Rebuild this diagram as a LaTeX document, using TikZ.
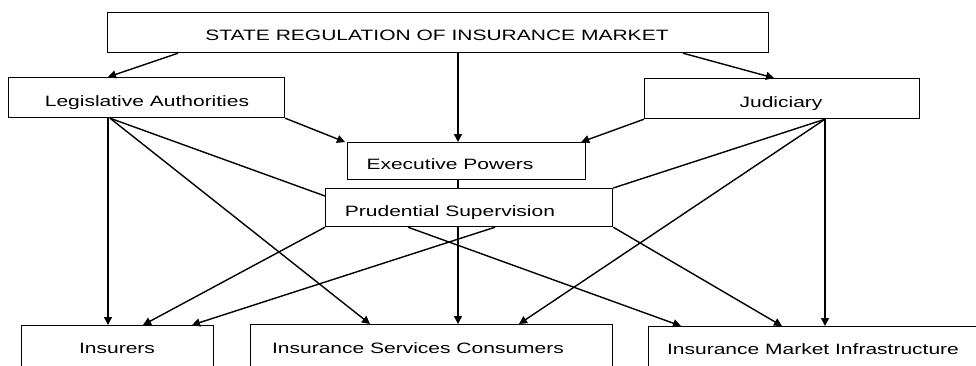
\documentclass[tikz,border=0pt]{standalone}
\usepackage{fontspec}
\setmainfont{Liberation Sans}[FakeStretch=1.4]
\usetikzlibrary{arrows.meta,calc}
\begin{document}
\begin{tikzpicture}[x=1pt,y=-1pt,
  box/.style={draw=black,line width=1.2pt,inner sep=0pt,anchor=north west},
  lbl/.style={anchor=base,inner sep=0pt,font=\fontsize{15}{18}\selectfont},
  arr/.style={line width=1.4pt,-{Triangle[length=8pt,width=8pt]}},
  ln/.style={line width=1.4pt}]
\clip (0,0) rectangle (976,365);
\fill[white] (0,0) rectangle (976,365);
% boxes
\node[box,minimum width=661pt,minimum height=40pt] (top) at (107,12) {};
\node[box,minimum width=276pt,minimum height=40pt] (leg) at (8,77) {};
\node[box,minimum width=275pt,minimum height=40pt] (jud) at (644,78) {};
\node[box,minimum width=238pt,minimum height=37pt] (exe) at (347,142) {};
\node[box,minimum width=287pt,minimum height=38pt] (pru) at (325,188) {};
\node[box,minimum width=192pt,minimum height=70pt] (ins) at (21,325) {};
\node[box,minimum width=362pt,minimum height=70pt] (con) at (250,324) {};
\node[box,minimum width=360pt,minimum height=70pt] (inf) at (648,326) {};
% texts
\node[lbl] (ttop) at (437,40) {STATE REGULATION OF INSURANCE MARKET};
\node[lbl] (tleg) at (147,106) {Legislative Authorities};
\node[lbl] (tjud) at (781,107) {Judiciary};
\node[lbl] (texe) at (450,169) {Executive Powers};
\node[lbl] (tpru) at (450,216) {Prudential Supervision};
\node[lbl] (tins) at (117,353) {Insurers};
\node[lbl] (tcon) at (418,353) {Insurance Services Consumers};
\node[lbl] (tinf) at (813,354) {Insurance Market Infrastructure};
% connectors from top
\draw[arr] ($(top.south west)+(71,0)$) -- ($(leg.north west)+(100,0)$);
\draw[arr] ($(top.south west)+(351,0)$) -- ($(exe.north west)+(111,0)$);
\draw[arr] ($(top.south west)+(576,0)$) -- ($(jud.north west)+(130,0)$);
% to executive
\draw[arr] (leg.south east) -- ($(exe.north west)+(-2,0)$);
\draw[arr] (jud.south west) -- ($(exe.north east)+(-5,0)$);
\draw[ln] ($(exe.south west)+(111,0)$) -- ($(pru.north west)+(133,0)$);
% legislative
\draw[arr] ($(leg.south west)+(100,0)$) -- ($(ins.north west)+(87,0)$);
\draw[arr] ($(leg.south west)+(102,0)$) -- ($(con.north west)+(120,0)$);
\draw[ln] ($(leg.south west)+(102,0)$) -- ($(pru.north west)+(0,8)$);
% judiciary
\draw[arr] ($(jud.south west)+(181,0)$) -- ($(inf.north west)+(177,0)$);
\draw[ln] ($(jud.south west)+(181,0)$) -- (pru.north east);
\draw[arr] ($(jud.south west)+(181,0)$) -- ($(con.north west)+(269,0)$);
% prudential
\draw[arr] (pru.south west) -- ($(ins.north west)+(122,0)$);
\draw[arr] ($(pru.south west)+(170,0)$) -- ($(ins.north west)+(171,0)$);
\draw[arr] ($(pru.south west)+(133,0)$) -- ($(con.north west)+(208,0)$);
\draw[arr] ($(pru.south west)+(83,0)$) -- ($(inf.north west)+(33,0)$);
\draw[arr] (pru.south east) -- ($(inf.north west)+(134,0)$);
\end{tikzpicture}
\end{document}
